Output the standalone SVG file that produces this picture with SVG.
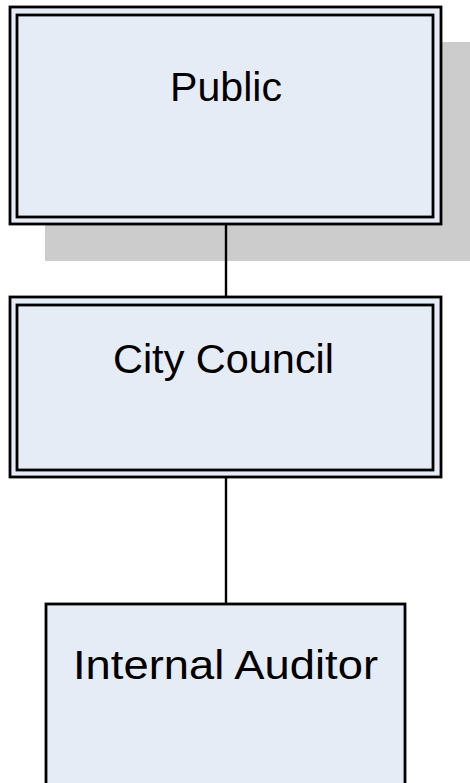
<svg xmlns="http://www.w3.org/2000/svg" width="470" height="783" viewBox="0 0 470 783">
<style>
.box{fill:#E6ECF6;stroke:#000;stroke-width:2.8}
.shadow{fill:#CCCCCC;stroke:none}
.conn{stroke:#000;stroke-width:2.4;fill:none}
.lbl{font-family:"Liberation Sans",Arial,sans-serif;font-size:41px;fill:#000}
</style>
<rect width="470" height="783" fill="#FFFFFF"/>
<g id="public">
<rect class="shadow" x="45" y="42" width="435" height="219"/>
<rect class="box" x="10" y="7" width="431" height="217"/>
<rect class="box" x="17" y="15" width="416" height="202"/>
<text class="lbl" x="170" y="101" textLength="112" lengthAdjust="spacingAndGlyphs">Public</text>
</g>
<g id="city-council">
<rect class="box" x="10" y="297" width="431" height="180"/>
<rect class="box" x="17" y="305" width="416" height="165"/>
<text class="lbl" x="113" y="373" textLength="221" lengthAdjust="spacingAndGlyphs">City Council</text>
</g>
<g id="internal-auditor">
<rect class="box" x="46" y="604" width="359" height="200"/>
<text class="lbl" x="73" y="679" textLength="305" lengthAdjust="spacingAndGlyphs">Internal Auditor</text>
</g>
<g id="connectors">
<line class="conn" x1="226" y1="225" x2="226" y2="296"/>
<line class="conn" x1="226" y1="478" x2="226" y2="603"/>
</g>
</svg>
